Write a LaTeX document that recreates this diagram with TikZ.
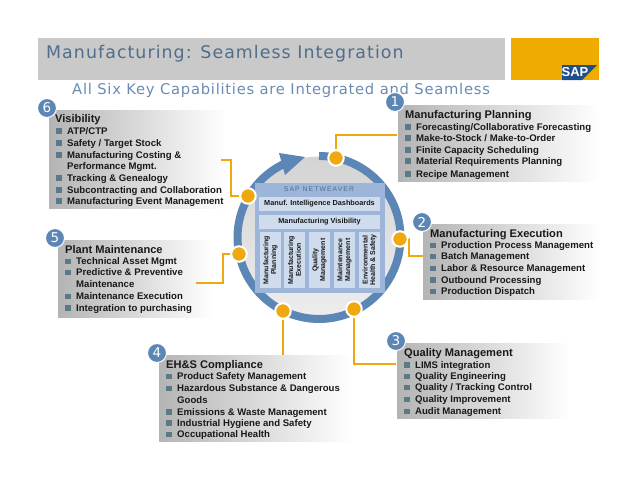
\documentclass[tikz,border=0pt]{standalone}
\usepackage{fontspec}
\setmainfont{Liberation Sans}
\newfontfamily\dejavu{DejaVu Sans}
\definecolor{bandgray}{HTML}{C9C9C9}
\definecolor{titleblue}{HTML}{4F6E8C}
\definecolor{subblue}{HTML}{6A8CB0}
\definecolor{sapgold}{HTML}{F0AB00}
\definecolor{sapblue}{HTML}{1F4E8C}
\definecolor{ringblue}{HTML}{5B86B5}
\definecolor{panelblue}{HTML}{9DB5D9}
\definecolor{celllight}{HTML}{CFDCEE}
\definecolor{bulletc}{HTML}{5A7A8C}
\definecolor{boxgray}{HTML}{B4B4B4}
\definecolor{dotc}{HTML}{EFA90F}
\tikzset{
  graybox/.style={left color=boxgray,right color=white,draw=none},
  numdot/.style={circle,fill=ringblue,draw=white,line width=1pt,minimum size=19pt,inner sep=0,text=white,font=\dejavu\fontsize{13.5}{13.5}\selectfont},
  head/.style={anchor=base west,inner sep=0,font=\bfseries\fontsize{11.1}{12}\selectfont,text=black!90},
  itemtext/.style={anchor=base west,inner sep=0,font=\bfseries\fontsize{9.6}{10}\selectfont,text=black!90},
  bulletsq/.style={fill=bulletc,draw=none,inner sep=0,minimum size=5.5pt,rectangle},
  portdot/.style={circle,fill=dotc,draw=white,line width=2pt,minimum size=15.5pt,inner sep=0},
  wire/.style={draw=dotc,line width=1.2pt},
  cell/.style={fill=celllight,draw=none,inner sep=0,font=\bfseries\fontsize{7.3}{8}\selectfont,text=black!90},
  vcell/.style={cell,rotate=90,align=center,font=\bfseries\fontsize{7}{7.6}\selectfont},
}
\newcommand{\itm}[4]{%
  \node[itemtext] (#1) at (#2,#3+3.2) {#4};
  \node[bulletsq] (#1b) at (#2-8,#3) {};
}
\newcommand{\cont}[4]{\node[itemtext] (#1) at (#2,#3+3.2) {#4};}
\begin{document}
\begin{tikzpicture}[x=1pt,y=-1pt]
\useasboundingbox (0,0) rectangle (638,493);
% header
\fill[bandgray] (38,38) rectangle (505,80);
\node[anchor=base west,inner sep=0,text=titleblue,font=\dejavu\fontsize{17.4}{18}\selectfont] (title) at (46,58.5) {\addfontfeature{LetterSpace=6}Manufacturing: Seamless Integration};
\node[anchor=base west,inner sep=0,text=subblue,font=\dejavu\fontsize{14.75}{15}\selectfont] (subtitle) at (72,94) {\addfontfeature{LetterSpace=5}All Six Key Capabilities are Integrated and Seamless};
\fill[sapgold] (511,38) rectangle (599,80);
\fill[sapblue] (562,65) -- (597,65) -- (582,80) -- (562,80) -- cycle;
\node[inner sep=0,text=white,font=\bfseries\fontsize{13}{13}\selectfont] (saplogo) at (575,72.5) {SAP};

% grey boxes
\fill[graybox] (49,110) rectangle (226,208);
\fill[graybox] (398,105) rectangle (600,181);
\fill[graybox] (423,224) rectangle (600,299);
\fill[graybox] (397,343) rectangle (570,418);
\fill[graybox] (159,355) rectangle (352,441);
\fill[graybox] (58,240) rectangle (212,317);
\coordinate (c1) at (397,135);
\coordinate (c2) at (423,256);
\coordinate (c3) at (396,364);
\coordinate (c4) at (283,355);
\coordinate (c5) at (196,283);
\coordinate (c6) at (221,160);

% disc and ring
\shade[top color=black!17,bottom color=black!7] (319,237.5) circle[radius=81];
\draw[ringblue,line width=8pt] plot[domain=-90:244,samples=120] ({319+81.5*cos(\x)},{237.5+81.5*sin(\x)});
\fill[ringblue] (305,157) -- (279,153) -- (285,175) -- cycle;

% centre panel
\fill[panelblue] (255,183) rectangle (385,293);
\node[inner sep=0,text=titleblue,font=\fontsize{6.8}{7}\selectfont] (nw) at (319,189.5) {\addfontfeature{LetterSpace=16}SAP NETWEAVER};
\node[cell,minimum width=121pt,minimum height=14pt] (dash) at (319.5,204) {Manuf. Intelligence Dashboards};
\node[cell,minimum width=121pt,minimum height=14pt] (vis) at (319.5,221.5) {Manufacturing Visibility};
\node[vcell,minimum width=56pt,minimum height=21pt] (v1) at (270.5,260) {Manufacturing\\Planning};
\node[vcell,minimum width=56pt,minimum height=21pt] (v2) at (294.5,260) {Manufacturing\\Execution};
\node[vcell,minimum width=56pt,minimum height=21pt] (v3) at (319.5,260) {Quality\\Management};
\node[vcell,minimum width=56pt,minimum height=21pt] (v4) at (344.5,260) {Maintenance\\Management};
\node[vcell,minimum width=56pt,minimum height=21pt] (v5) at (369.5,260) {Environmental\\Health \& Safety};

% port dots
\node[portdot] (p1) at (336,158) {};
\node[portdot] (p2) at (400,239) {};
\node[portdot] (p3) at (354,309) {};
\node[portdot] (p4) at (283,311) {};
\node[portdot] (p5) at (239,254) {};
\node[portdot] (p6) at (248,196) {};

% connectors
\draw[wire] (p1) -- (336,135) -- (c1);
\draw[wire] (p2) -- (409,239) -- (409,256) -- (c2);
\draw[wire] (p3) -- (354,364) -- (c3);
\draw[wire] (p4) -- (c4);
\draw[wire] (p5) -- (223,254) -- (223,283) -- (c5);
\draw[wire] (p6) -- (231,196) -- (231,160) -- (c6);

% number badges
\node[numdot] (n1) at (395,102) {1};
\node[numdot] (n2) at (422,222) {2};
\node[numdot] (n3) at (396,341) {3};
\node[numdot] (n4) at (157,353) {4};
\node[numdot] (n5) at (55,238) {5};
\node[numdot] (n6) at (47,108) {6};

% 6 Visibility
\node[head] (h6) at (55,122) {Visibility};
\itm{a1}{67}{131}{ATP/CTP}
\itm{a2}{67}{143}{Safety / Target Stock}
\itm{a3}{67}{155}{Manufacturing Costing \&}
\cont{a3c}{67}{166}{Performance Mgmt.}
\itm{a4}{67}{178}{Tracking \& Genealogy}
\itm{a5}{67}{190}{Subcontracting and Collaboration}
\itm{a6}{67}{201}{Manufacturing Event Management}
% 1 Planning
\node[head] (h1) at (405,118) {Manufacturing Planning};
\itm{b1}{416}{127}{Forecasting/Collaborative Forecasting}
\itm{b2}{416}{138}{Make-to-Stock / Make-to-Order}
\itm{b3}{416}{150}{Finite Capacity Scheduling}
\itm{b4}{416}{161}{Material Requirements Planning}
\itm{b5}{416}{174}{Recipe Management}
% 2 Execution
\node[head] (h2) at (430,237) {Manufacturing Execution};
\itm{d1}{441}{245.5}{Production Process Management}
\itm{d2}{441}{256.5}{Batch Management}
\itm{d3}{441}{268.5}{Labor \& Resource Management}
\itm{d4}{441}{280}{Outbound Processing}
\itm{d5}{441}{291.5}{Production Dispatch}
% 3 Quality
\node[head] (h3) at (404,356) {Quality Management};
\itm{e1}{415}{365}{LIMS integration}
\itm{e2}{415}{376.5}{Quality Engineering}
\itm{e3}{415}{387.5}{Quality / Tracking Control}
\itm{e4}{415}{399.5}{Quality Improvement}
\itm{e5}{415}{411.5}{Audit Management}
% 4 EH&S
\node[head] (h4) at (166,368) {EH\&S Compliance};
\itm{f1}{177}{376.5}{Product Safety Management}
\itm{f2}{177}{388.5}{Hazardous Substance \& Dangerous}
\cont{f2c}{177}{400}{Goods}
\itm{f3}{177}{412}{Emissions \& Waste Management}
\itm{f4}{177}{423}{Industrial Hygiene and Safety}
\itm{f5}{177}{434.5}{Occupational Health}
% 5 Plant
\node[head] (h5) at (65,253) {Plant Maintenance};
\itm{g1}{76}{261.5}{Technical Asset Mgmt}
\itm{g2}{76}{272.5}{Predictive \& Preventive}
\cont{g2c}{76}{284.5}{Maintenance}
\itm{g3}{76}{296.5}{Maintenance Execution}
\itm{g4}{76}{308}{Integration to purchasing}
\end{tikzpicture}
\end{document}
